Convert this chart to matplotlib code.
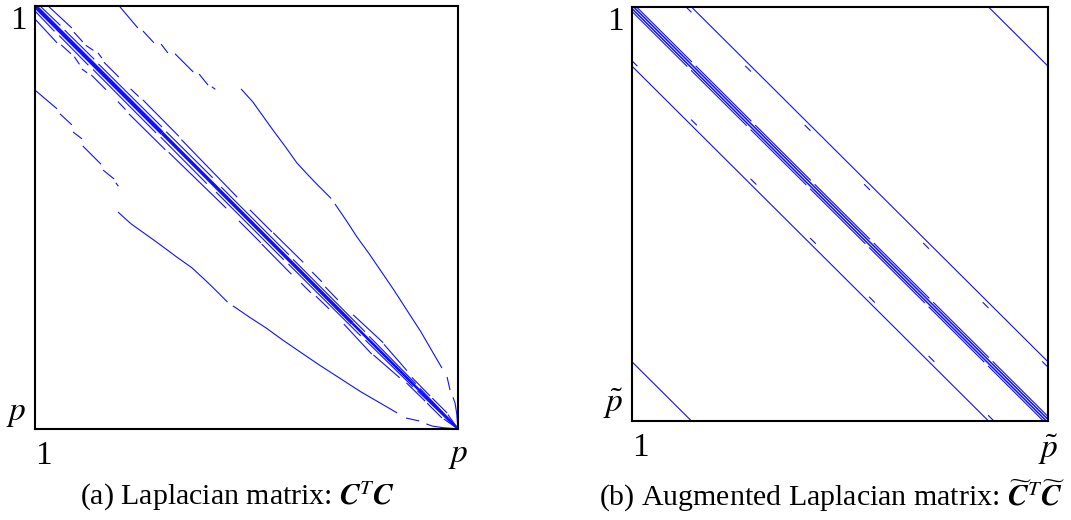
import numpy as np
import matplotlib.pyplot as plt

plt.rcParams['font.family'] = ['Liberation Serif', 'DejaVu Serif']
plt.rcParams['mathtext.fontset'] = 'stix'

# ---- (a) Laplacian matrix C^T C ----
# bands of the upper triangle, points are (column, row) as fractions of p.
# the matrix is symmetric, the lower half is drawn as the transpose.
a_far_band = [
    [(0.199, 0.000), (0.243, 0.052)],
    [(0.255, 0.059), (0.281, 0.087)],
    [(0.298, 0.090), (0.314, 0.111)],
    [(0.331, 0.113), (0.374, 0.156)],
    [(0.388, 0.161), (0.409, 0.187)],
    [(0.418, 0.191), (0.426, 0.197)],
]
a_far_curve = [
    [(0.487, 0.196), (0.515, 0.227), (0.560, 0.290), (0.592, 0.333), (0.619, 0.371),
     (0.643, 0.397), (0.665, 0.420), (0.700, 0.455)],
    [(0.709, 0.468), (0.735, 0.506), (0.761, 0.546), (0.790, 0.586), (0.816, 0.624),
     (0.848, 0.671), (0.879, 0.719), (0.912, 0.770), (0.941, 0.820), (0.962, 0.856)],
    [(0.974, 0.877), (0.981, 0.908)],
    [(0.988, 0.925), (0.993, 0.939), (0.997, 0.965), (0.999, 0.990), (1.000, 1.000)],
]
a_near_band = [
    [(0.031, 0.000), (0.087, 0.052)],
    [(0.092, 0.062), (0.113, 0.085)],
    [(0.120, 0.093), (0.138, 0.105)],
    [(0.149, 0.111), (0.158, 0.123)],
    [(0.163, 0.133), (0.198, 0.168)],
    [(0.226, 0.196), (0.245, 0.214)],
    [(0.255, 0.222), (0.340, 0.308)],
    [(0.346, 0.316), (0.478, 0.452)],
    [(0.508, 0.482), (0.560, 0.534)],
    [(0.563, 0.536), (0.634, 0.606)],
    [(0.655, 0.629), (0.678, 0.652)],
    [(0.686, 0.664), (0.716, 0.695)],
    [(0.752, 0.730), (0.823, 0.796)],
    [(0.825, 0.800), (0.879, 0.862)],
    [(0.891, 0.878), (0.934, 0.922)],
    [(0.939, 0.927), (0.974, 0.962)],
    [(0.976, 0.966), (1.000, 1.000)],
]
a_close_band = [
    [(0.012, 0.000), (0.060, 0.046)],
    [(0.070, 0.057), (0.140, 0.126)],
    [(0.150, 0.137), (0.300, 0.286)],
    [(0.310, 0.297), (0.420, 0.406)],
    [(0.440, 0.428), (0.600, 0.588)],
    [(0.610, 0.599), (0.780, 0.770)],
    [(0.790, 0.781), (0.900, 0.893)],
    [(0.910, 0.904), (0.990, 0.988)],
]
# main diagonal pieces: start, end (fraction of p)
a_diag = [(0.0, 0.30), (0.30, 0.75), (0.75, 1.0)]
a_diag_lw = [3.0, 2.5, 1.9]

# ---- (b) Augmented Laplacian matrix ----
b_block_edges = [0.0, 0.143, 0.286, 0.429, 0.571, 0.714, 0.857, 1.0]
b_inner_offsets = [-0.004, 0.004]
b_outer_offset = 0.011
b_band_offsets = [0.143, 0.857]
b_dash_offset = 0.130
b_dash_length = 0.012

blue = '#1010ff'
lw = 0.8

fig = plt.figure(figsize=(10.71, 5.2), dpi=100)
ax_a = fig.add_axes([0.0327, 0.175, 0.3950, 0.8135])
ax_b = fig.add_axes([0.5901, 0.1904, 0.3884, 0.7962])


def draw_sym(ax, segs, **kw):
    for seg in segs:
        seg = np.array(seg)
        ax.plot(seg[:, 0], seg[:, 1], **kw)
        ax.plot(seg[:, 1], seg[:, 0], **kw)


# panel a
for band in [a_far_band, a_far_curve, a_near_band, a_close_band]:
    draw_sym(ax_a, band, color=blue, lw=lw, solid_capstyle='butt')
for (s, e), w in zip(a_diag, a_diag_lw):
    ax_a.plot([s, e], [s, e], color=blue, lw=w, solid_capstyle='butt')

# panel b
for off in b_inner_offsets:
    ax_b.plot([max(off, 0), 1 - max(-off, 0)], [max(-off, 0), 1 - max(off, 0)],
              color=blue, lw=1.1)
for s, e in zip(b_block_edges[:-1], b_block_edges[1:]):
    d = b_outer_offset
    draw_sym(ax_b, [[(s + d, s), (e, e - d)]], color=blue, lw=lw)
    du = s + b_dash_offset
    if du < 1:
        draw_sym(ax_b, [[(du, s), (min(du + b_dash_length, 1.0), s + min(b_dash_length, 1.0 - du))]],
                 color=blue, lw=lw)
for off in b_band_offsets:
    draw_sym(ax_b, [[(off, 0.0), (1.0, 1.0 - off)]], color=blue, lw=lw)

labels = {ax_a: ['1', '$p$'], ax_b: ['1', r'$\tilde{p}$']}
for ax in [ax_a, ax_b]:
    ax.set_xlim(0, 1)
    ax.set_ylim(1, 0)
    ax.set_xticks([0, 1])
    ax.set_xticklabels(labels[ax])
    ax.set_yticks([0, 1])
    ax.set_yticklabels(labels[ax])
    ax.tick_params(length=0, labelsize=24, pad=6)
    ax.tick_params(axis='x', pad=8)
    xl = ax.get_xticklabels()
    xl[0].set_ha('left')
    yl = ax.get_yticklabels()
    yl[0].set_va('top')
    yl[1].set_va('bottom')
    for sp in ax.spines.values():
        sp.set_linewidth(1.5)

fig.text(0.222, 0.046, r'(a) Laplacian matrix: $\boldsymbol{C}^T\boldsymbol{C}$',
         fontsize=21.5, ha='center', va='center')
fig.text(0.777, 0.046,
         r'(b) Augmented Laplacian matrix: $\widetilde{\boldsymbol{C}}^T\widetilde{\boldsymbol{C}}$',
         fontsize=21.5, ha='center', va='center')

fig.savefig('out.png', dpi=100)
